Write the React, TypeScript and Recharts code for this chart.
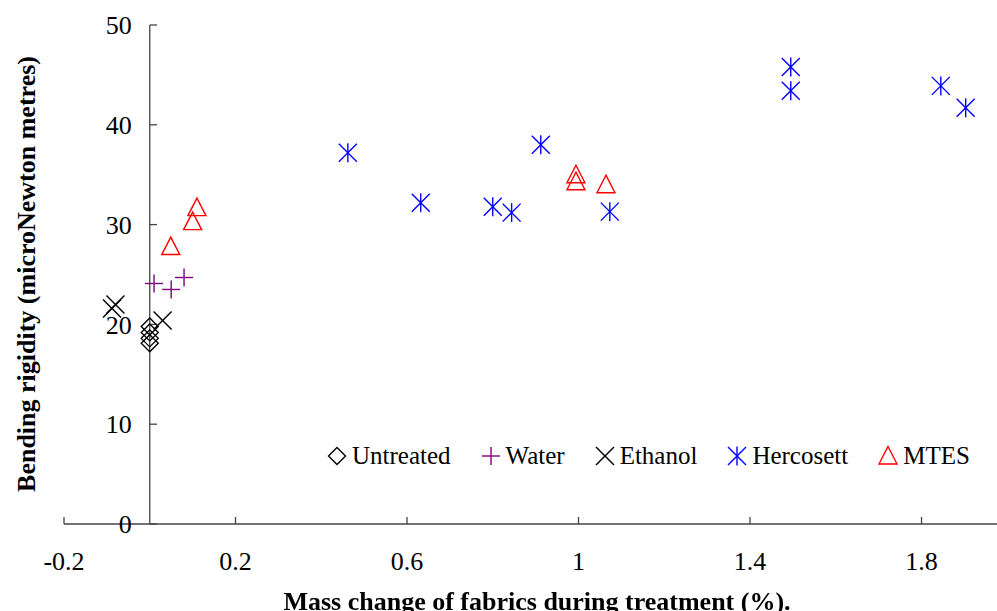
import React from 'react';
import { ScatterChart, Scatter, XAxis, YAxis, ReferenceLine } from 'recharts';

// data: mass change (%) vs bending rigidity
const untreated = [
  { x: 0, y: 19.8 },
  { x: 0, y: 19.2 },
  { x: 0, y: 18.6 },
  { x: 0, y: 18.1 },
];
const water = [
  { x: 0.01, y: 24.1 },
  { x: 0.05, y: 23.5 },
  { x: 0.08, y: 24.7 },
];
const ethanol = [
  { x: -0.088, y: 21.6 },
  { x: -0.08, y: 22.0 },
  { x: 0.03, y: 20.4 },
];
const hercosett = [
  { x: 0.462, y: 37.2 },
  { x: 0.632, y: 32.2 },
  { x: 0.8, y: 31.8 },
  { x: 0.844, y: 31.2 },
  { x: 0.912, y: 38.0 },
  { x: 1.073, y: 31.3 },
  { x: 1.495, y: 45.8 },
  { x: 1.495, y: 43.4 },
  { x: 1.845, y: 43.9 },
  { x: 1.903, y: 41.7 },
];
const mtes = [
  { x: 0.049, y: 27.8 },
  { x: 0.1, y: 30.3 },
  { x: 0.11, y: 31.7 },
  { x: 0.994, y: 35.0 },
  { x: 0.994, y: 34.3 },
  { x: 1.064, y: 34.0 },
];

const xTicks = [-0.2, 0.2, 0.6, 1, 1.4, 1.8];
const yTicks = [0, 10, 20, 30, 40, 50];

const FONT = '"Liberation Serif", "Times New Roman", serif';
const AXIS = '#444';
const Y_TICK_LEN = 0.017;

type Kind = 'diamond' | 'plus' | 'cross' | 'star' | 'triangle';

const series: { name: string; data: { x: number; y: number }[]; color: string; kind: Kind }[] = [
  { name: 'Untreated', data: untreated, color: '#000000', kind: 'diamond' },
  { name: 'Water', data: water, color: '#800080', kind: 'plus' },
  { name: 'Ethanol', data: ethanol, color: '#000000', kind: 'cross' },
  { name: 'Hercosett', data: hercosett, color: '#0000ff', kind: 'star' },
  { name: 'MTES', data: mtes, color: '#ff0000', kind: 'triangle' },
];

function Marker({ kind, cx, cy, color }: { kind: Kind; cx: number; cy: number; color: string }) {
  const sw = 1.4;
  const common = { fill: 'none', stroke: color, strokeWidth: sw };
  if (kind === 'diamond') {
    const r = 8.5;
    return <polygon {...common} points={`${cx},${cy - r} ${cx + r},${cy} ${cx},${cy + r} ${cx - r},${cy}`} />;
  }
  if (kind === 'plus') {
    const r = 9;
    return (
      <g {...common}>
        <line x1={cx - r} y1={cy} x2={cx + r} y2={cy} />
        <line x1={cx} y1={cy - r} x2={cx} y2={cy + r} />
      </g>
    );
  }
  if (kind === 'cross') {
    const r = 9;
    return (
      <g {...common}>
        <line x1={cx - r} y1={cy - r} x2={cx + r} y2={cy + r} />
        <line x1={cx - r} y1={cy + r} x2={cx + r} y2={cy - r} />
      </g>
    );
  }
  if (kind === 'star') {
    const r = 9;
    return (
      <g {...common}>
        <line x1={cx - r} y1={cy - r} x2={cx + r} y2={cy + r} />
        <line x1={cx - r} y1={cy + r} x2={cx + r} y2={cy - r} />
        <line x1={cx} y1={cy - r - 0.5} x2={cx} y2={cy + r + 0.5} />
      </g>
    );
  }
  return <polygon {...common} points={`${cx},${cy - 9.5} ${cx + 9},${cy + 8} ${cx - 9},${cy + 8}`} />;
}

function XTick(props: any) {
  const { x, y, payload } = props;
  return (
    <g>
      <line x1={x} y1={y} x2={x} y2={y - 7} stroke={AXIS} strokeWidth={1.3} />
      <text x={x} y={y + 46} textAnchor="middle" fontFamily={FONT} fontSize={26} fill="#000">
        {String(payload.value)}
      </text>
    </g>
  );
}

function ChartLegend() {
  return (
    <div
      style={{
        position: 'absolute',
        left: 327,
        top: 442,
        display: 'flex',
        alignItems: 'center',
        gap: 30,
        fontFamily: FONT,
        fontSize: 25,
        color: '#000',
      }}
    >
      {series.map((s) => (
        <div key={s.name} style={{ display: 'flex', alignItems: 'center' }}>
          <svg width={20} height={22}>
            <Marker kind={s.kind} cx={10} cy={11} color={s.color} />
          </svg>
          <span style={{ marginLeft: 5, lineHeight: '28px' }}>{s.name}</span>
        </div>
      ))}
    </div>
  );
}

export default function App() {
  return (
    <div style={{ position: 'fixed', left: 0, top: 0, width: 997, height: 611, background: '#fff' }}>
      <ScatterChart width={997} height={611} margin={{ top: 25, right: 0, bottom: 27, left: 64 }}>
        <XAxis
          type="number"
          dataKey="x"
          domain={[-0.2, 1.976]}
          allowDataOverflow
          ticks={xTicks}
          height={60}
          tickSize={0}
          tickMargin={0}
          tickLine={false}
          axisLine={{ stroke: AXIS, strokeWidth: 1.3 }}
          tick={<XTick />}
        />
        <YAxis type="number" dataKey="y" domain={[0, 50]} hide />
        <ReferenceLine x={0} stroke={AXIS} strokeWidth={1.3} />
        {yTicks.map((v) => (
          <ReferenceLine
            key={v}
            segment={[
              { x: 0, y: v },
              { x: Y_TICK_LEN, y: v },
            ]}
            stroke={AXIS}
            strokeWidth={1.3}
            ifOverflow="visible"
            label={{ value: String(v), position: 'left', offset: 18, fontFamily: FONT, fontSize: 26, fill: '#000' }}
          />
        ))}
        {series.map((s) => (
          <Scatter
            key={s.name}
            name={s.name}
            data={s.data}
            fill={s.color}
            isAnimationActive={false}
            shape={(p: any) => <Marker kind={s.kind} cx={p.cx} cy={p.cy} color={s.color} />}
          />
        ))}
      </ScatterChart>
      <ChartLegend />
      <div
        style={{
          position: 'absolute',
          left: 537,
          top: 589,
          transform: 'translateX(-50%)',
          whiteSpace: 'nowrap',
          fontFamily: FONT,
          fontWeight: 'bold',
          fontSize: 26,
          lineHeight: 1,
        }}
      >
        Mass change of fabrics during treatment (%).
      </div>
      <div
        style={{
          position: 'absolute',
          left: 27,
          top: 274,
          transform: 'translate(-50%, -50%) rotate(-90deg)',
          whiteSpace: 'nowrap',
          fontFamily: FONT,
          fontWeight: 'bold',
          fontSize: 26,
          lineHeight: 1,
        }}
      >
        Bending rigidity (microNewton metres)
      </div>
    </div>
  );
}
